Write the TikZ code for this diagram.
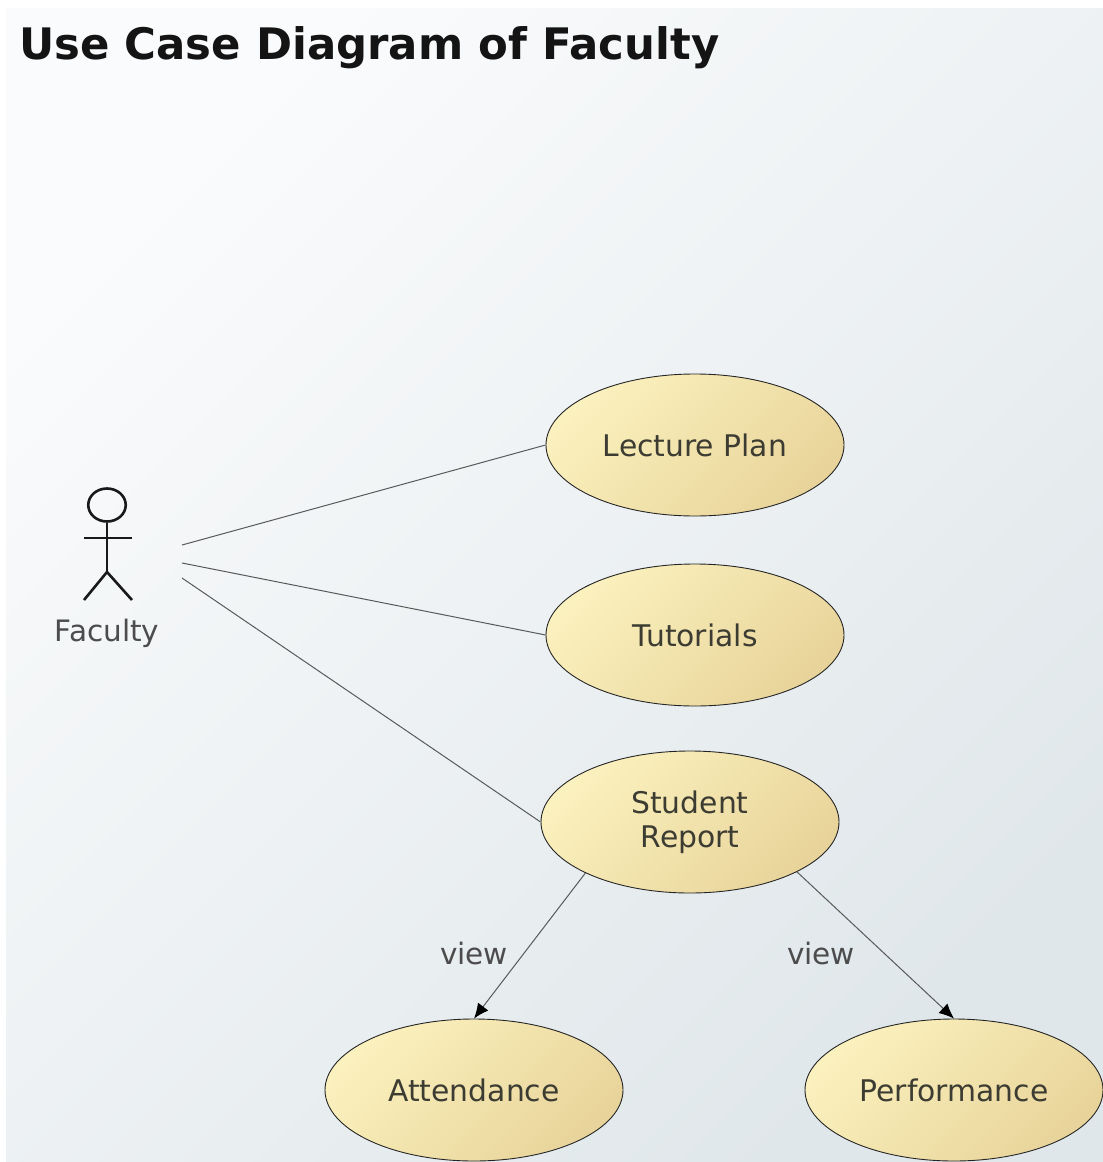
\documentclass[tikz,border=0pt]{standalone}
\usepackage{fontspec}
\setmainfont{DejaVu Sans}
\usetikzlibrary{shapes.geometric,arrows.meta}
\definecolor{bgA}{HTML}{FAFBFC}
\definecolor{bgB}{HTML}{E0E7EA}
\definecolor{ucA}{HTML}{FBF1BE}
\definecolor{ucB}{HTML}{E8D49A}
\definecolor{ink}{HTML}{3C3C32}
\tikzset{
  usecase/.style={ellipse,draw=black!85,line width=0.9pt,minimum width=298pt,minimum height=142pt,inner sep=0pt,
    left color=ucA,right color=ucB,shading angle=45,align=center,text=ink,font=\fontsize{29.8}{34}\selectfont},
  assoc/.style={draw=black!65,line width=1pt},
  viewlink/.style={draw=black!65,line width=1pt,-{Latex[black,length=15pt,width=13pt]}},
  stick/.style={draw=black!90,line width=2.6pt},
  tag/.style={text=black!70,font=\fontsize{29.5}{34}\selectfont,inner sep=0pt},
}
\begin{document}
\begin{tikzpicture}[x=1pt,y=-1pt]
\useasboundingbox (0,0) rectangle (1103,1162);
\fill[white] (0,0) rectangle (1103,1162);
\shade[left color=bgA,right color=bgB,shading angle=45] (6,8) rectangle (1103,1162);
\node[anchor=west,inner sep=0pt,font=\bfseries\fontsize{43.4}{50}\selectfont,text=black!92] (title) at (19,48) {Use Case Diagram of Faculty};

\node[usecase] (lecture) at (695,445) {Lecture Plan};
\node[usecase] (tutorials) at (695,635) {Tutorials};
\node[usecase] (report) at (690,822) {\raisebox{-3pt}{Student}\\\raisebox{-3pt}{Report}};
\node[usecase] (attendance) at (474,1090) {Attendance};
\node[usecase] (performance) at (954,1090) {Performance};

% actor
\node[ellipse,stick,fill=none,minimum width=37.5pt,minimum height=33pt,inner sep=0pt] (head) at (107,505) {};
\coordinate (hip) at (107,572);
\coordinate (armL) at (84,538);
\coordinate (armR) at (132,538);
\coordinate (footL) at (84,600);
\coordinate (footR) at (132,600);
\draw[stick] (head.south) -- (hip);
\draw[stick] (armL) -- (armR);
\draw[stick] (footL) -- (hip) -- (footR);
\node[tag] (faculty) at (107,633) {Faculty};

\coordinate (a1) at (182,545);
\coordinate (a2) at (182,563);
\coordinate (a3) at (182,578);
\draw[assoc] (a1) -- (lecture.west);
\draw[assoc] (a2) -- (tutorials.west);
\draw[assoc] (a3) -- (report.west);
\draw[viewlink] (report.-154) -- (attendance.north);
\draw[viewlink] (report.-25) -- (performance.north);
\node[tag] (view1) at (474,953) {view};
\node[tag] (view2) at (821,953) {view};
\end{tikzpicture}
\end{document}
